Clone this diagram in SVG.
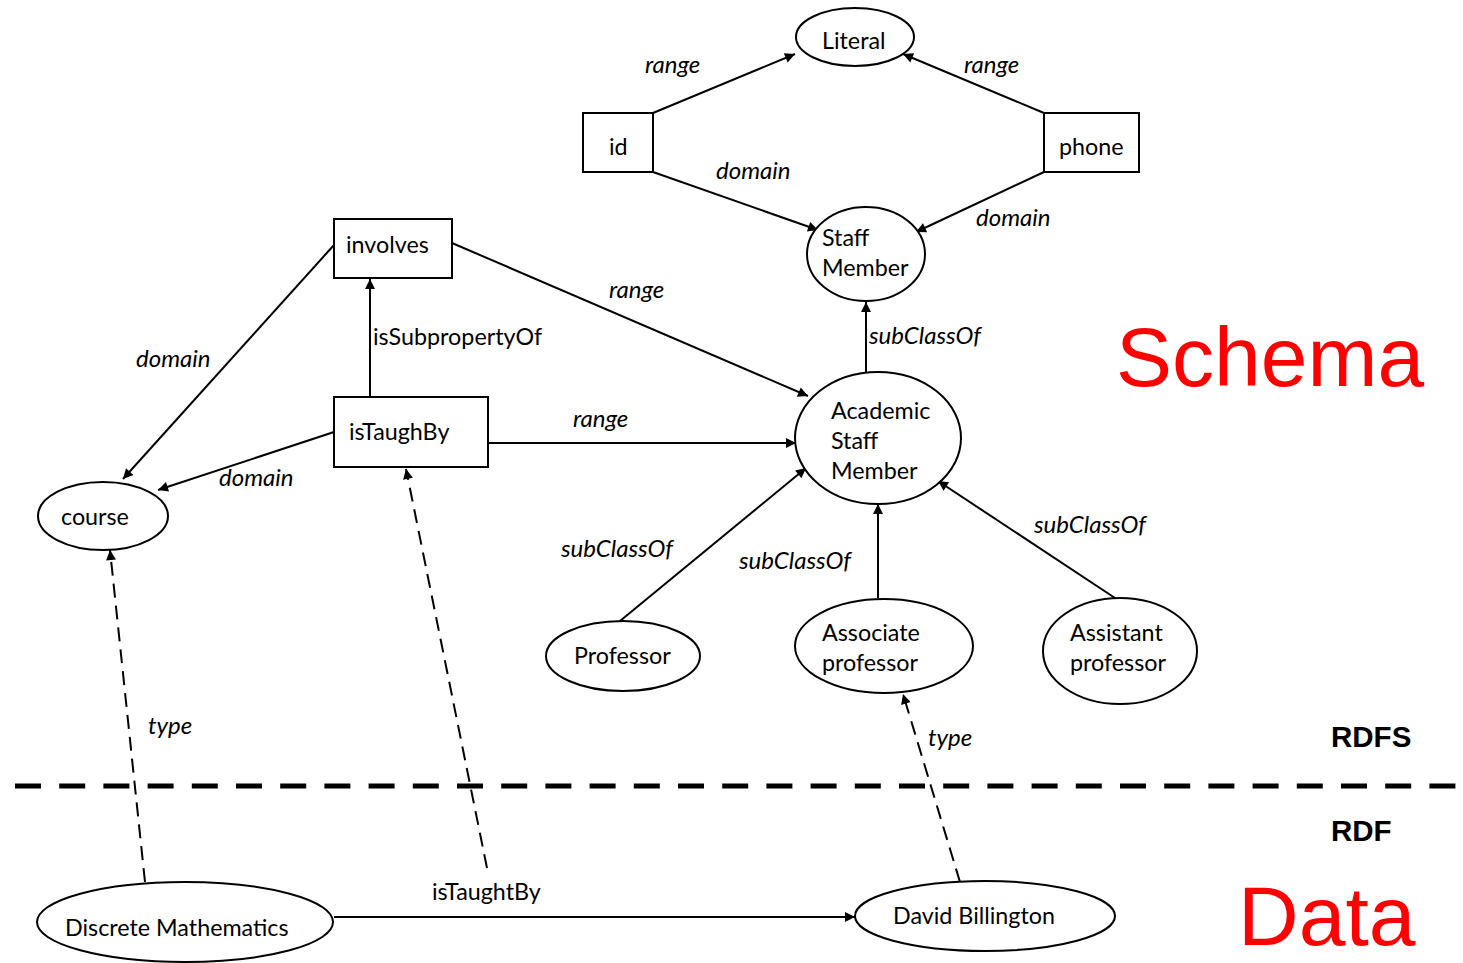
<svg xmlns="http://www.w3.org/2000/svg" width="1463" height="963" viewBox="0 0 1463 963">
<style>
.n{fill:#fff;stroke:#000;stroke-width:2}
.t{font-family:Lato,"Open Sans",sans-serif;font-size:23.3px;fill:#000}
.l{font-family:Lato,"Open Sans",sans-serif;font-size:24px;font-style:italic;fill:#000}
.e{stroke:#000;stroke-width:2;fill:none;marker-end:url(#a)}
.d{stroke:#000;stroke-width:2;fill:none;stroke-dasharray:14,8;marker-end:url(#a)}
.big{font-family:"Liberation Sans",Arial,sans-serif;font-size:84px;fill:#ff0000}
.b{font-family:"Liberation Sans",Arial,sans-serif;font-size:29.5px;font-weight:bold;fill:#000}
</style>
<defs>
<marker id="a" viewBox="0 0 10 10" refX="10" refY="5" markerWidth="12" markerHeight="10" orient="auto" markerUnits="userSpaceOnUse">
<path d="M0,0L10,5L0,10z" fill="#000"/>
</marker>
</defs>
<rect width="1463" height="963" fill="#fff"/>
<g id="connectors">
<path class="e" d="M653,113L795,54"/>
<path class="e" d="M1044,113L903,54"/>
<path class="e" d="M653,172L818,230"/>
<path class="e" d="M1044,172L916,232"/>
<path class="e" d="M866,372L866,302"/>
<path class="e" d="M452,243L808,396"/>
<path class="e" d="M334,245L123,479"/>
<path class="e" d="M370,397L370,279"/>
<path class="e" d="M488,443L796,443"/>
<path class="e" d="M334,432L158,490"/>
<path class="e" d="M620,621L806,468"/>
<path class="e" d="M878,598L878,504"/>
<path class="e" d="M1115,598L938,481"/>
<path class="e" d="M334,917L855,917"/>
<path class="d" d="M145,882L110,550"/>
<path class="d" d="M487,868L406,469"/>
<path class="d" d="M960,882L903,694"/>
<text class="l" x="645" y="73">range</text>
<text class="l" x="964" y="73">range</text>
<text class="l" x="716" y="179">domain</text>
<text class="l" x="976" y="226">domain</text>
<text class="l" x="869" y="344">subClassOf</text>
<text class="l" x="609" y="298">range</text>
<text class="l" x="136" y="367">domain</text>
<text class="t" x="373" y="345">isSubpropertyOf</text>
<text class="l" x="573" y="427">range</text>
<text class="l" x="219" y="486">domain</text>
<text class="l" x="561" y="557">subClassOf</text>
<text class="l" x="739" y="569">subClassOf</text>
<text class="l" x="1034" y="533">subClassOf</text>
<text class="l" x="148" y="734">type</text>
<text class="l" x="928" y="746">type</text>
<text class="t" x="432" y="900">isTaughtBy</text>
</g>
<path d="M15,786L1463,786" stroke="#000" stroke-width="5" stroke-dasharray="26,18.2"/>
<g id="literal"><ellipse class="n" cx="855" cy="37" rx="59" ry="29"/><text class="t" x="822" y="49">Literal</text></g>
<g id="id"><rect class="n" x="583" y="113" width="70" height="59"/><text class="t" x="609" y="155">id</text></g>
<g id="phone"><rect class="n" x="1044" y="113" width="95" height="59"/><text class="t" x="1059" y="155">phone</text></g>
<g id="staff"><ellipse class="n" cx="866" cy="254" rx="59" ry="47"/><text class="t" x="822" y="246">Staff</text><text class="t" x="822" y="276">Member</text></g>
<g id="involves"><rect class="n" x="334" y="219" width="118" height="59"/><text class="t" x="346" y="253">involves</text></g>
<g id="istaughby"><rect class="n" x="334" y="397" width="154" height="70"/><text class="t" x="349" y="440">isTaughBy</text></g>
<g id="academic"><ellipse class="n" cx="878" cy="438" rx="83" ry="66"/><text class="t" x="831" y="419">Academic</text><text class="t" x="831" y="449">Staff</text><text class="t" x="831" y="479">Member</text></g>
<g id="course"><ellipse class="n" cx="103" cy="516" rx="65" ry="34"/><text class="t" x="61" y="525">course</text></g>
<g id="professor"><ellipse class="n" cx="623" cy="656" rx="77" ry="35"/><text class="t" x="574" y="664">Professor</text></g>
<g id="associate"><ellipse class="n" cx="884" cy="646" rx="89" ry="47"/><text class="t" x="822" y="641">Associate</text><text class="t" x="822" y="671">professor</text></g>
<g id="assistant"><ellipse class="n" cx="1120" cy="651" rx="77" ry="53"/><text class="t" x="1070" y="641">Assistant</text><text class="t" x="1070" y="671">professor</text></g>
<g id="discrete"><ellipse class="n" cx="185" cy="922" rx="148" ry="40"/><text class="t" x="65" y="936">Discrete Mathematics</text></g>
<g id="david"><ellipse class="n" cx="985" cy="916" rx="130" ry="35"/><text class="t" x="893" y="924">David Billington</text></g>
<text class="big" x="1116" y="386">Schema</text>
<text class="big" x="1238" y="945">Data</text>
<text class="b" x="1331" y="747">RDFS</text>
<text class="b" x="1331" y="841">RDF</text>
</svg>
